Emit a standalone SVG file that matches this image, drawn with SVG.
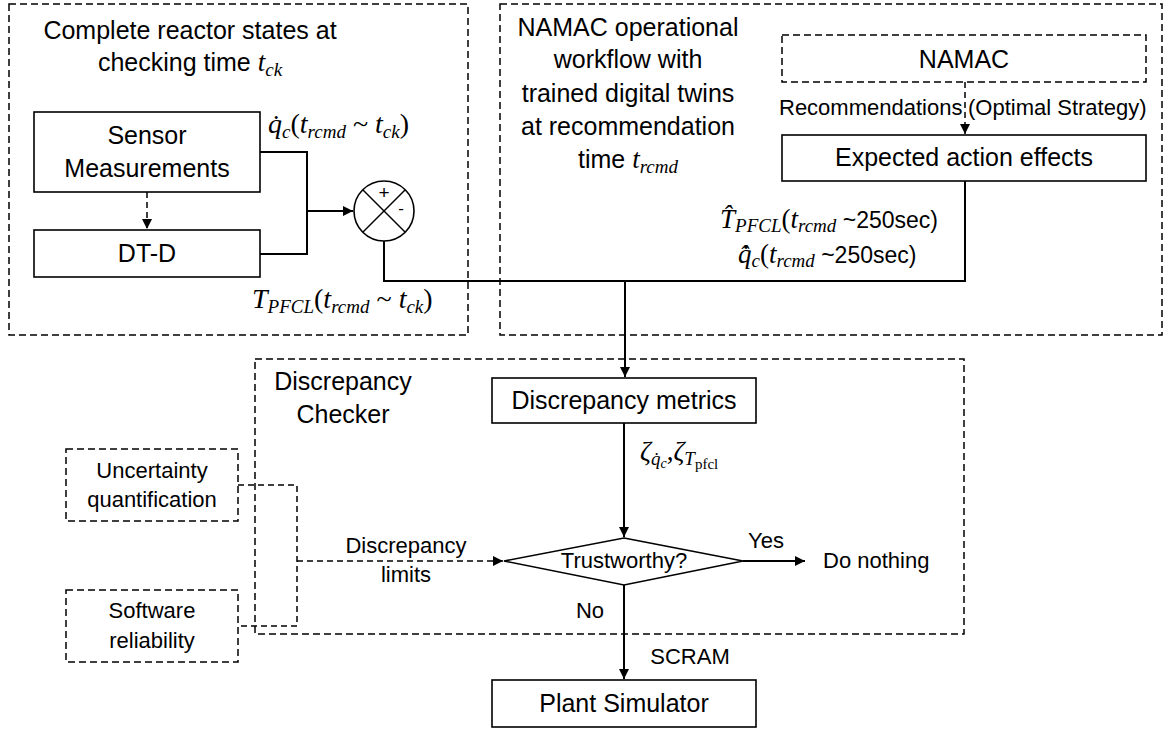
<svg xmlns="http://www.w3.org/2000/svg" width="1164" height="729" viewBox="0 0 1164 729">
<style>
.box{fill:#fff;stroke:#000;stroke-width:1.6}
.dbox{fill:none;stroke:#000;stroke-width:1.5;stroke-dasharray:7 4}
.t{font-family:"Liberation Sans",Arial,sans-serif;fill:#000}
.b{font-size:25px}
.s{font-size:22px}
.m{font-family:"Liberation Serif","Times New Roman",serif;font-style:italic;fill:#000}
.up{font-style:normal}
.conn{fill:none;stroke:#000;stroke-width:2}
.dconn{fill:none;stroke:#000;stroke-width:1.5;stroke-dasharray:6 4}
.thin{fill:none;stroke:#000;stroke-width:1.5}
</style>
<defs>
<marker id="ah" viewBox="0 0 10 10" refX="10" refY="5" markerWidth="11" markerHeight="10" markerUnits="userSpaceOnUse" orient="auto">
<path d="M0,0 L10,5 L0,10 z" fill="#000"/>
</marker>
</defs>
<rect width="1164" height="729" fill="#fff"/>

<g id="region-reactor-states">
<rect class="dbox" x="9" y="4" width="459" height="331"/>
<text class="t b" x="190" y="39" text-anchor="middle">Complete reactor states at</text>
<text class="t b" x="190" y="71" text-anchor="middle">checking time <tspan class="m" font-size="27">t</tspan><tspan class="m" font-size="19" dy="5">ck</tspan></text>
</g>

<g id="region-namac">
<rect class="dbox" x="500" y="4" width="662" height="331"/>
<text class="t b" x="628" y="36" text-anchor="middle">NAMAC operational</text>
<text class="t b" x="628" y="68" text-anchor="middle">workflow with</text>
<text class="t b" x="628" y="102" text-anchor="middle">trained digital twins</text>
<text class="t b" x="628" y="135" text-anchor="middle">at recommendation</text>
<text class="t b" x="628" y="168" text-anchor="middle">time <tspan class="m" font-size="27">t</tspan><tspan class="m" font-size="19" dy="5">rcmd</tspan></text>
</g>

<g id="region-checker">
<rect class="dbox" x="255" y="359" width="709" height="275"/>
<text class="t b" x="343" y="390" text-anchor="middle">Discrepancy</text>
<text class="t b" x="343" y="423" text-anchor="middle">Checker</text>
</g>

<g id="connectors">
<line class="dconn" x1="147" y1="192" x2="147" y2="229" marker-end="url(#ah)"/>
<polyline class="conn" points="260,152 307,152 307,254 260,254"/>
<line class="conn" x1="307" y1="211" x2="353" y2="211" marker-end="url(#ah)"/>
<polyline class="conn" points="384,241 384,281 965,281 965,181"/>
<line class="conn" x1="625" y1="281" x2="625" y2="377" marker-end="url(#ah)"/>
<line class="dconn" x1="965" y1="82" x2="965" y2="134" marker-end="url(#ah)"/>
<line class="conn" x1="624" y1="423" x2="624" y2="537" marker-end="url(#ah)"/>
<line class="conn" x1="743" y1="561" x2="805" y2="561" marker-end="url(#ah)"/>
<line class="conn" x1="624" y1="585" x2="624" y2="679" marker-end="url(#ah)"/>
<polyline class="dconn" points="238,485 297,485 297,626 238,626"/>
<line class="dconn" x1="297" y1="561" x2="503" y2="561" marker-end="url(#ah)"/>
<text class="m" x="268" y="133" font-size="28">q&#775;<tspan font-size="19" dy="5">c</tspan><tspan class="up" dy="-5">(</tspan>t<tspan font-size="19" dy="5">rcmd</tspan><tspan class="up" dy="-5"> ~ </tspan>t<tspan font-size="19" dy="5">ck</tspan><tspan class="up" dy="-5">)</tspan></text>
<text class="m" x="252" y="308" font-size="28">T<tspan font-size="19" dy="5">PFCL</tspan><tspan class="up" dy="-5">(</tspan>t<tspan font-size="19" dy="5">rcmd</tspan><tspan class="up" dy="-5"> ~ </tspan>t<tspan font-size="19" dy="5">ck</tspan><tspan class="up" dy="-5">)</tspan></text>
<text class="m" x="720" y="228" font-size="27">T&#770;<tspan font-size="19" dy="4">PFCL</tspan><tspan class="up" dy="-4">(</tspan>t<tspan font-size="19" dy="4">rcmd</tspan><tspan class="t up" font-size="23" dy="-4"> ~250sec)</tspan></text>
<text class="m" x="738" y="263" font-size="27">q&#775;&#770;<tspan font-size="19" dy="4">c</tspan><tspan class="up" dy="-4">(</tspan>t<tspan font-size="19" dy="4">rcmd</tspan><tspan class="t up" font-size="23" dy="-4"> ~250sec)</tspan></text>
<text class="t s" x="779" y="115">Recommendations</text>
<text class="t s" x="968" y="115">(Optimal Strategy)</text>
<text class="m" x="640" y="460" font-size="27">ζ<tspan font-size="19" dy="5">q&#775;</tspan><tspan font-size="14" dy="3">c</tspan><tspan class="up" dy="-8">,</tspan>ζ<tspan font-size="19" dy="5">T</tspan><tspan class="up" font-size="15" dy="4">pfcl</tspan></text>
<text class="t s" x="406" y="553" text-anchor="middle">Discrepancy</text>
<text class="t s" x="406" y="582" text-anchor="middle">limits</text>
<text class="t s" x="766" y="548" text-anchor="middle">Yes</text>
<text class="t s" x="590" y="618" text-anchor="middle">No</text>
<text class="t s" x="690" y="664" text-anchor="middle">SCRAM</text>
</g>

<g id="node-sensor">
<rect class="box" x="34" y="112" width="226" height="80"/>
<text class="t b" x="147" y="144" text-anchor="middle">Sensor</text>
<text class="t b" x="147" y="177" text-anchor="middle">Measurements</text>
</g>

<g id="node-dtd">
<rect class="box" x="34" y="230" width="226" height="47"/>
<text class="t b" x="147" y="262" text-anchor="middle">DT-D</text>
</g>

<g id="node-sum">
<circle cx="384" cy="211" r="30" fill="#fff" stroke="#000" stroke-width="1.6"/>
<line class="thin" x1="363" y1="190" x2="405" y2="232"/>
<line class="thin" x1="405" y1="190" x2="363" y2="232"/>
<text class="t" x="384" y="199" font-size="19" text-anchor="middle">+</text>
<text class="t" x="401" y="214" font-size="17" text-anchor="middle">-</text>
</g>

<g id="node-namac">
<rect class="dbox" x="782" y="35" width="364" height="47"/>
<text class="t b" x="964" y="68" text-anchor="middle">NAMAC</text>
</g>

<g id="node-expected">
<rect class="box" x="782" y="135" width="364" height="46"/>
<text class="t b" x="964" y="166" text-anchor="middle">Expected action effects</text>
</g>

<g id="node-metrics">
<rect class="box" x="492" y="378" width="264" height="45"/>
<text class="t b" x="624" y="409" text-anchor="middle">Discrepancy metrics</text>
</g>

<g id="node-trustworthy">
<polygon points="624,538 743,561 624,585 504,561" fill="#fff" stroke="#000" stroke-width="1.6"/>
<text class="t s" x="624" y="568" text-anchor="middle">Trustworthy?</text>
</g>

<g id="node-donothing">
<text class="t s" x="823" y="568">Do nothing</text>
</g>

<g id="node-plant">
<rect class="box" x="492" y="680" width="264" height="47"/>
<text class="t b" x="624" y="712" text-anchor="middle">Plant Simulator</text>
</g>

<g id="node-uq">
<rect class="dbox" x="66" y="449" width="172" height="72"/>
<text class="t s" x="152" y="478" text-anchor="middle">Uncertainty</text>
<text class="t s" x="152" y="507" text-anchor="middle">quantification</text>
</g>

<g id="node-sw">
<rect class="dbox" x="66" y="590" width="172" height="72"/>
<text class="t s" x="152" y="618" text-anchor="middle">Software</text>
<text class="t s" x="152" y="648" text-anchor="middle">reliability</text>
</g>
</svg>
